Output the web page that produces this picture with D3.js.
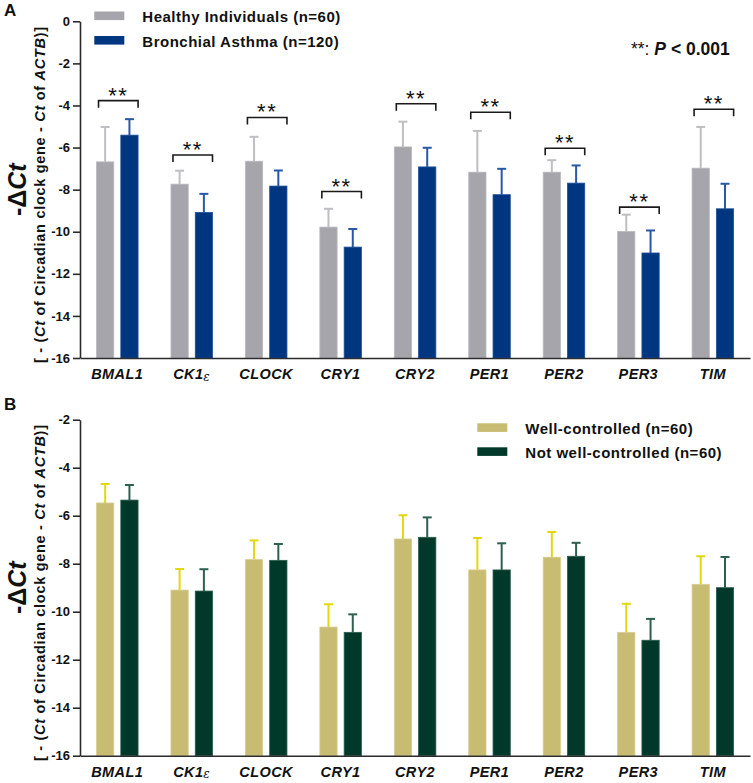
<!DOCTYPE html>
<html>
<head>
<meta charset="utf-8">
<script src="https://cdn.jsdelivr.net/npm/d3@7"></script>
<style>
  html, body { margin: 0; padding: 0; background: #fff; }
  svg { display: block; font-family: Arial, "Liberation Sans", sans-serif; }
</style>
</head>
<body>
<svg id="chart" width="753" height="783"></svg>
<script>
// ---------- data ----------
const genes = ["BMAL1", "CK1ε", "CLOCK", "CRY1", "CRY2", "PER1", "PER2", "PER3", "TIM"];

// Panel A
const seriesA = ["Healthy Individuals (n=60)", "Bronchial Asthma (n=120)"];
const healthyMean = [-6.68, -7.74, -6.65, -9.78, -5.97, -7.17, -7.17, -9.99, -6.98];
const healthyErr  = [-5.02, -7.10, -5.49, -8.91, -4.77, -5.21, -6.60, -9.19, -5.02];
const asthmaMean  = [-5.41, -9.08, -7.83, -10.73, -6.92, -8.24, -7.69, -11.01, -8.91];
const asthmaErr   = [-4.65, -8.20, -7.09, -9.87, -6.01, -7.01, -6.85, -9.94, -7.72];
const sigLevelA   = [-3.77, -6.35, -4.57, -8.09, -3.92, -4.32, -6.03, -8.83, -4.18];
const ticksA = [0, -2, -4, -6, -8, -10, -12, -14, -16];

// Panel B
const seriesB = ["Well-controlled (n=60)", "Not well-controlled (n=60)"];
const wellMean    = [-5.47, -9.10, -7.83, -10.64, -6.97, -8.26, -7.73, -10.86, -8.86];
const wellErr     = [-4.68, -8.22, -7.03, -9.69, -5.98, -6.93, -6.68, -9.67, -7.69];
const notWellMean = [-5.35, -9.14, -7.86, -10.86, -6.90, -8.26, -7.69, -11.19, -9.00];
const notWellErr  = [-4.72, -8.23, -7.18, -10.11, -6.07, -7.15, -7.13, -10.30, -7.72];
const ticksB = [-2, -4, -6, -8, -10, -12, -14, -16];

// ---------- drawing ----------
const svg = d3.select("#chart");
const AXIS = "#2b2b2b";

function drawPanel(cfg) {
  const g = svg.append("g");
  const x0 = d3.scaleBand().domain(genes).range([80, 750]).paddingInner(0).paddingOuter(0);
  const bw = x0.bandwidth();
  const x1 = d3.scaleBand().domain([0, 1]).range([bw * 0.222, bw * 0.78]).paddingInner(0.29);
  const y = d3.scaleLinear().domain(cfg.domain).range(cfg.range);
  const base = y(cfg.domain[0]);

  const rows = genes.map((gname, i) => ({
    gene: gname, i,
    vals: [
      { s: 0, mean: cfg.means[0][i], err: cfg.errs[0][i] },
      { s: 1, mean: cfg.means[1][i], err: cfg.errs[1][i] }
    ]
  }));

  const grp = g.selectAll("g.grp").data(rows).join("g")
    .attr("transform", d => `translate(${x0(d.gene)},0)`);

  // error bars (behind bars)
  grp.selectAll("g.err").data(d => d.vals).join("g").each(function(d) {
    const cx = x1(d.s) + x1.bandwidth() / 2;
    const e = d3.select(this);
    e.append("line").attr("x1", cx).attr("x2", cx)
      .attr("y1", y(d.mean)).attr("y2", y(d.err))
      .attr("stroke", cfg.errColors[d.s]).attr("stroke-width", 2);
    e.append("line").attr("x1", cx - 4.5).attr("x2", cx + 4.5)
      .attr("y1", y(d.err)).attr("y2", y(d.err))
      .attr("stroke", cfg.errColors[d.s]).attr("stroke-width", 2);
  });

  // bars
  grp.selectAll("rect.bar").data(d => d.vals).join("rect")
    .attr("class", "bar")
    .attr("x", d => x1(d.s))
    .attr("width", x1.bandwidth())
    .attr("y", d => y(d.mean))
    .attr("height", d => base - y(d.mean))
    .attr("fill", d => cfg.colors[d.s])
    .attr("stroke", d => cfg.edgeColors[d.s])
    .attr("stroke-width", 0.8);

  // significance brackets
  if (cfg.sig) {
    grp.each(function(d) {
      const lv = y(cfg.sig[d.i]);
      const xl = x1(0) + 2, xr = x1(1) + x1.bandwidth();
      const s = d3.select(this);
      s.append("path")
        .attr("d", `M${xl},${lv + 7}V${lv}H${xr}V${lv + 7}`)
        .attr("fill", "none").attr("stroke", "#1a1a1a").attr("stroke-width", 1.6);
      s.append("text").attr("x", (xl + xr) / 2).attr("y", lv + 2)
        .attr("text-anchor", "middle")
        .attr("font-size", 22).attr("letter-spacing", 1.5).attr("fill", "#111")
        .text("**");
    });
  }

  // y axis
  const yAxis = d3.axisLeft(y).tickValues(cfg.ticks).tickSize(7).tickSizeOuter(0).tickPadding(3)
    .tickFormat(d => d === 0 ? "0" : "-" + Math.abs(d));
  const ya = g.append("g").attr("transform", "translate(80,0)").call(yAxis);
  ya.select(".domain").attr("stroke", AXIS).attr("stroke-width", 1.6);
  ya.selectAll(".tick line").attr("stroke", AXIS).attr("stroke-width", 1.6);
  ya.selectAll(".tick text").attr("font-size", 13).attr("font-weight", "bold")
    .attr("fill", "#111").attr("font-family", "Arial, 'Liberation Sans', sans-serif");

  // x axis
  const xAxis = d3.axisBottom(x0).tickSize(0).tickPadding(11);
  const xa = g.append("g").attr("transform", `translate(0,${base})`).call(xAxis);
  xa.select(".domain").attr("stroke", AXIS).attr("stroke-width", 1.6);
  xa.selectAll(".tick text").attr("font-size", 14.5).attr("font-weight", "bold")
    .attr("font-style", "italic").attr("fill", "#111")
    .attr("font-family", "Arial, 'Liberation Sans', sans-serif")
    .attr("letter-spacing", 0.4)
    .attr("dy", "0.71em")
    .each(function(d) {
      if (d === "CK1ε") {
        const t = d3.select(this);
        t.text("CK1");
        t.append("tspan").attr("font-family", "'DejaVu Serif', 'Liberation Serif', serif")
          .attr("font-weight", "normal").attr("font-style", "italic")
          .attr("font-size", 12).attr("dy", 1.5).text("ε");
      }
    });

  // y-axis title
  const cy = (cfg.range[0] + cfg.range[1]) / 2;
  g.append("text").attr("transform", `translate(26,${cy}) rotate(-90)`)
    .attr("text-anchor", "middle").attr("font-size", 25).attr("font-weight", "bold")
    .attr("fill", "#111")
    .call(t => {
      t.append("tspan").text("-Δ");
      t.append("tspan").attr("font-style", "italic").text("Ct");
    });
  const t2 = g.append("text").attr("transform", `translate(45,${cy + 5}) rotate(-90)`)
    .attr("text-anchor", "middle").attr("font-size", 14.5).attr("font-weight", "bold")
    .attr("letter-spacing", 0.7)
    .attr("fill", "#111");
  t2.append("tspan").text("[ - (");
  t2.append("tspan").attr("font-style", "italic").text("Ct");
  t2.append("tspan").text(" of Circadian clock gene - ");
  t2.append("tspan").attr("font-style", "italic").text("Ct");
  t2.append("tspan").text(" of ");
  t2.append("tspan").attr("font-style", "italic").text("ACTB");
  t2.append("tspan").text(")]");

  // panel letter
  g.append("text").attr("x", 4).attr("y", cfg.letterY).attr("font-size", 17)
    .attr("font-weight", "bold").attr("fill", "#111").text(cfg.letter);

  // legend
  cfg.series.forEach((name, k) => {
    const ly = cfg.legend.y + k * cfg.legend.dy;
    g.append("rect").attr("x", cfg.legend.x).attr("y", ly - 10.5).attr("width", 30).attr("height", 8.6)
      .attr("fill", cfg.colors[k]);
    g.append("text").attr("x", cfg.legend.x + 48).attr("y", ly)
      .attr("font-size", 15).attr("font-weight", "bold").attr("fill", "#111")
      .attr("letter-spacing", 0.5)
      .text(name);
  });
  return { g, y };
}

drawPanel({
  letter: "A", letterY: 16,
  domain: [-16, 0], range: [358, 21.3], ticks: ticksA,
  means: [healthyMean, asthmaMean], errs: [healthyErr, asthmaErr],
  colors: ["#a6a5ab", "#003580"], edgeColors: ["#b9b8bd", "#1f4f98"],
  errColors: ["#bebec3", "#2858a6"],
  sig: sigLevelA, series: seriesA,
  legend: { x: 94.3, y: 22, dy: 24.5 }
});

drawPanel({
  letter: "B", letterY: 410,
  domain: [-16, -2], range: [755.7, 419.7], ticks: ticksB,
  means: [wellMean, notWellMean], errs: [wellErr, notWellErr],
  colors: ["#c8bb72", "#00392a"], edgeColors: ["#d6cc92", "#2a5b4a"],
  errColors: ["#e3d810", "#2f5f50"],
  sig: null, series: seriesB,
  legend: { x: 477.3, y: 433.8, dy: 24 }
});

// p-value note
const note = svg.append("text").attr("x", 631).attr("y", 55).attr("font-size", 17.5)
  .attr("font-weight", "bold").attr("fill", "#111");
note.append("tspan").attr("font-weight", "normal").text("**: ");
note.append("tspan").attr("font-style", "italic").text("P");
note.append("tspan").text(" < 0.001");
</script>
</body>
</html>
